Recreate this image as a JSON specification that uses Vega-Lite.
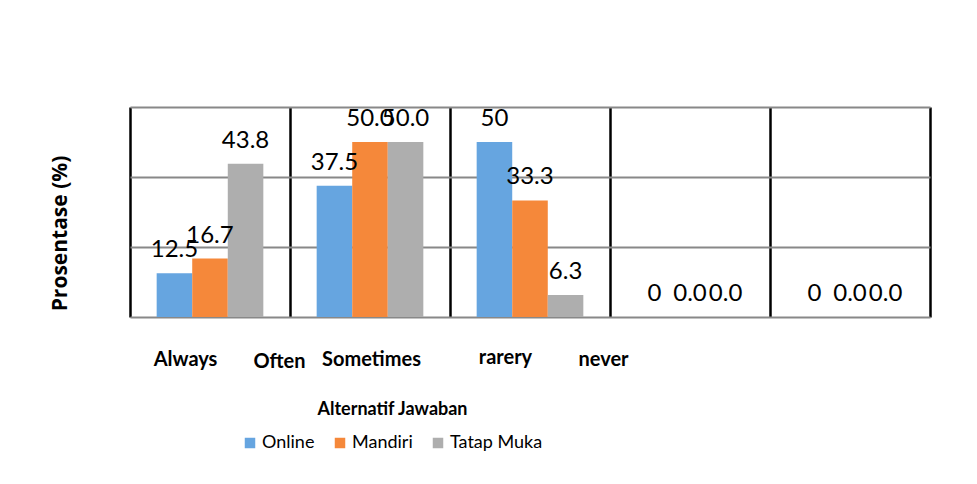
{
  "$schema": "https://vega.github.io/schema/vega-lite/v6.json",
  "autosize": "none",
  "width": 800,
  "height": 210,
  "padding": {"left": 130, "top": 107, "right": 47, "bottom": 167},
  "background": "white",
  "config": {
    "font": "Lato",
    "view": {"stroke": null}
  },
  "data": {
    "values": [
      {"cat": "Always", "series": "Online", "value": 12.5, "label": "12.5"},
      {"cat": "Always", "series": "Mandiri", "value": 16.7, "label": "16.7"},
      {"cat": "Always", "series": "Tatap Muka", "value": 43.8, "label": "43.8"},
      {"cat": "Often", "series": "Online", "value": 37.5, "label": "37.5"},
      {"cat": "Often", "series": "Mandiri", "value": 50.0, "label": "50.0"},
      {"cat": "Often", "series": "Tatap Muka", "value": 50.0, "label": "50.0"},
      {"cat": "Sometimes", "series": "Online", "value": 50, "label": "50"},
      {"cat": "Sometimes", "series": "Mandiri", "value": 33.3, "label": "33.3"},
      {"cat": "Sometimes", "series": "Tatap Muka", "value": 6.3, "label": "6.3"},
      {"cat": "rarery", "series": "Online", "value": 0, "label": "0"},
      {"cat": "rarery", "series": "Mandiri", "value": 0, "label": "0.0"},
      {"cat": "rarery", "series": "Tatap Muka", "value": 0, "label": "0.0"},
      {"cat": "never", "series": "Online", "value": 0, "label": "0"},
      {"cat": "never", "series": "Mandiri", "value": 0, "label": "0.0"},
      {"cat": "never", "series": "Tatap Muka", "value": 0, "label": "0.0"}
    ]
  },
  "encoding": {
    "x": {
      "field": "cat",
      "type": "nominal",
      "sort": ["Always", "Often", "Sometimes", "rarery", "never"],
      "scale": {"paddingInner": 0, "paddingOuter": 0},
      "axis": {
        "title": "Alternatif Jawaban",
        "titleFont": "Lato",
        "titleFontSize": 18,
        "titleFontWeight": "bold",
        "titleColor": "black",
        "titleX": 262,
        "titleY": 97,
        "titleBaseline": "alphabetic",
        "titleAlign": "center",
        "labelAngle": 0,
        "labelFont": "Lato",
        "labelFontSize": 20,
        "labelFontWeight": "bold",
        "labelColor": "black",
        "labelBaseline": "alphabetic",
        "labelPadding": {
          "condition": [
            {"test": "datum.value == 'Often'", "value": 50},
            {"test": "datum.value == 'rarery'", "value": 46}
          ],
          "value": 48
        },
        "labelOffset": {
          "condition": [
            {"test": "datum.value == 'Always'", "value": -25},
            {"test": "datum.value == 'Often'", "value": -91},
            {"test": "datum.value == 'Sometimes'", "value": -159},
            {"test": "datum.value == 'rarery'", "value": -185},
            {"test": "datum.value == 'never'", "value": -247}
          ],
          "value": 0
        },
        "ticks": false,
        "domain": false,
        "grid": true,
        "tickBand": "extent",
        "gridColor": "black",
        "gridWidth": 2.5,
        "gridOpacity": 1
      }
    },
    "xOffset": {
      "field": "series",
      "type": "nominal",
      "sort": ["Online", "Mandiri", "Tatap Muka"],
      "scale": {"paddingInner": 0, "paddingOuter": 0.75}
    },
    "y": {
      "field": "value",
      "type": "quantitative",
      "scale": {"domain": [0, 60], "nice": false},
      "axis": {
        "title": "Prosentase (%)",
        "titleFont": "Open Sans",
        "titleFontSize": 21,
        "titleFontWeight": "bold",
        "titleColor": "black",
        "titleX": -64,
        "titleY": 126,
        "titleAlign": "center",
        "titleBaseline": "alphabetic",
        "values": [0, 20, 40, 60],
        "labels": false,
        "ticks": false,
        "domain": false,
        "grid": true,
        "gridColor": "#888888",
        "gridWidth": 2,
        "gridOpacity": 1
      }
    }
  },
  "layer": [
    {
      "mark": {"type": "bar"},
      "encoding": {
        "color": {
          "field": "series",
          "type": "nominal",
          "sort": ["Online", "Mandiri", "Tatap Muka"],
          "scale": {"domain": ["Online", "Mandiri", "Tatap Muka"], "range": ["#66A5E0", "#F5883A", "#AEAEAE"]},
          "legend": {
            "title": null,
            "orient": "none",
            "direction": "horizontal",
            "legendX": 111,
            "legendY": 327,
            "symbolType": "square",
            "symbolSize": 110,
            "symbolStrokeWidth": 0,
            "labelFont": "Lato",
            "labelFontSize": 18,
            "labelColor": "black",
            "columnPadding": 16,
            "labelOffset": 3
          }
        }
      }
    },
    {
      "mark": {"type": "text", "font": "Lato", "fontSize": 24, "color": "black", "baseline": "alphabetic", "dy": -16},
      "encoding": {
        "text": {"field": "label"}
      }
    }
  ]
}
